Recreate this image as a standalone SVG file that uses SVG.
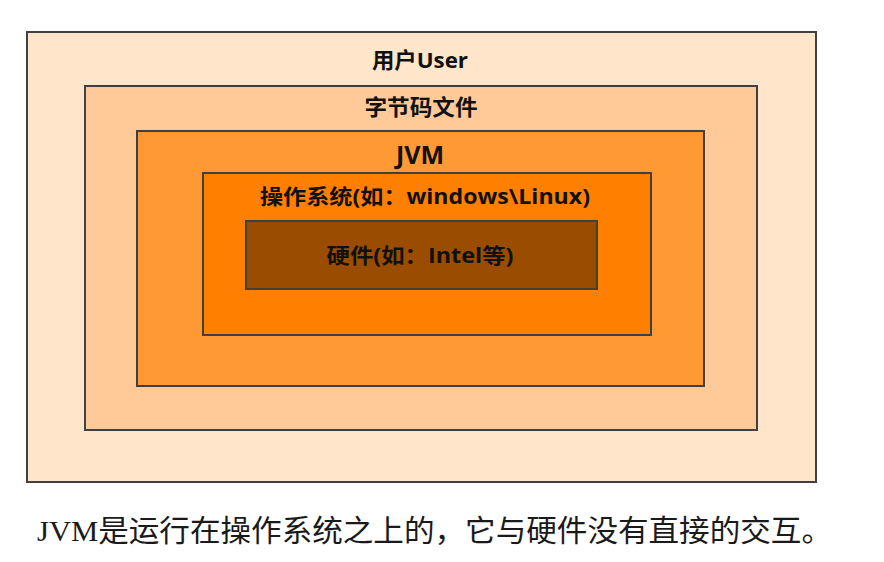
<svg xmlns="http://www.w3.org/2000/svg" width="884" height="562" viewBox="0 0 884 562">
<style>
.box{stroke:#404040;stroke-width:2}
.lbl{font-family:"Open Sans","Noto Sans CJK SC",sans-serif;font-weight:bold;fill:#111;text-anchor:middle}
.cap{font-family:"Liberation Serif","Noto Sans CJK SC",serif;fill:#1a1a1a}
</style>
<rect width="884" height="562" fill="#ffffff"/>
<g id="user">
<rect class="box" x="27" y="32" width="789" height="450" fill="#FFE5CA"/>
<text class="lbl" x="420" y="68" font-size="22" textLength="96" lengthAdjust="spacingAndGlyphs">用户User</text>
</g>
<g id="bytecode">
<rect class="box" x="85" y="86" width="672" height="344" fill="#FFCA98"/>
<text class="lbl" x="421" y="115" font-size="22" textLength="113" lengthAdjust="spacingAndGlyphs">字节码文件</text>
</g>
<g id="jvm">
<rect class="box" x="137" y="131" width="567" height="255" fill="#FF9933"/>
<text class="lbl" x="420" y="164" font-size="25">JVM</text>
</g>
<g id="os">
<rect class="box" x="203" y="173" width="448" height="162" fill="#FF8000"/>
<text class="lbl" x="425" y="204" font-size="21" textLength="330" lengthAdjust="spacingAndGlyphs">操作系统(如：windows\Linux)</text>
</g>
<g id="hardware">
<rect class="box" x="246" y="221" width="351" height="68" fill="#9A4C00"/>
<text class="lbl" x="420" y="263" font-size="21" textLength="187" lengthAdjust="spacingAndGlyphs">硬件(如：Intel等)</text>
</g>
<g id="connectors"></g>
<text class="cap" x="37" y="541" font-size="30" textLength="795" lengthAdjust="spacingAndGlyphs">JVM是运行在操作系统之上的，它与硬件没有直接的交互。</text>
</svg>
